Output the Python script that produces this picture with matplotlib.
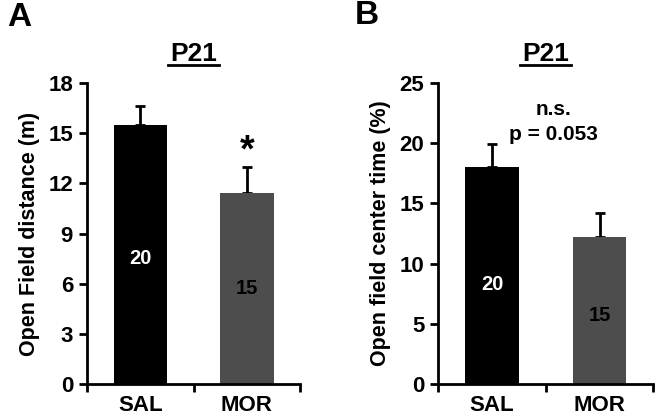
import matplotlib

matplotlib.use("Agg")
import matplotlib.pyplot as plt
from matplotlib.lines import Line2D

plt.rcParams["font.family"] = ["Liberation Sans", "DejaVu Sans"]
plt.rcParams["font.weight"] = "bold"

groups = ["SAL", "MOR"]
n_animals = ["20", "15"]
bar_colors = ["#000000", "#4d4d4d"]
n_colors = ["white", "black"]

dist_mean = [15.5, 11.4]
dist_err = [1.1, 1.55]
dist_n_y = [7.5, 5.7]

center_mean = [18.0, 12.2]
center_err = [1.95, 2.0]
center_n_y = [8.3, 5.7]

fig = plt.figure(figsize=(6.56, 4.18), dpi=100)
ax_a = fig.add_axes([0.1326, 0.0813, 0.325, 0.72])
ax_b = fig.add_axes([0.668, 0.0813, 0.328, 0.72])


def draw_panel(ax, means, errs, n_y, ymax, ystep, ylabel):
    xs = [0.5, 1.5]
    ax.bar(xs, means, width=0.5, color=bar_colors, zorder=2)
    ax.errorbar(xs, means, yerr=[[0, 0], errs], fmt="none", ecolor="black",
                elinewidth=2, capsize=3.5, capthick=2, zorder=1)
    for x, y, t, c in zip(xs, n_y, n_animals, n_colors):
        ax.text(x, y, t, ha="center", va="center", color=c, fontsize=14.5,
                fontweight="bold")
    ax.set_xlim(0, 2)
    ax.set_ylim(0, ymax)
    ax.set_yticks(range(0, ymax + 1, ystep))
    ax.set_xticks([0, 1, 2])
    ax.set_xticklabels([])
    ax.set_xticks(xs, minor=True)
    ax.set_xticklabels(groups, minor=True)
    ax.tick_params(axis="x", which="minor", length=0, pad=8, labelsize=16)
    ax.tick_params(axis="x", which="major", length=6, width=2, direction="out")
    ax.tick_params(axis="y", length=6, width=2, direction="out", labelsize=16,
                   pad=4)
    for side in ("top", "right"):
        ax.spines[side].set_visible(False)
    for side in ("left", "bottom"):
        ax.spines[side].set_linewidth(2)
    ax.set_ylabel(ylabel, fontsize=15.5, fontweight="bold", labelpad=6)
    title = ax.set_title("P21", fontsize=19, fontweight="bold", pad=16)
    return title


title_a = draw_panel(ax_a, dist_mean, dist_err, dist_n_y, 18, 3,
                     "Open Field distance (m)")
title_b = draw_panel(ax_b, center_mean, center_err, center_n_y, 25, 5,
                     "Open field center time (%)")

ax_a.text(1.5, 13.9, "*", ha="center", va="center", fontsize=27,
          fontweight="bold")
ax_b.text(1.07, 22.8, "n.s.", ha="center", va="center", fontsize=15,
          fontweight="bold")
ax_b.text(1.07, 20.7, "p = 0.053", ha="center", va="center", fontsize=15,
          fontweight="bold")

fig.text(19 / 656, 1 - 17 / 418, "A", ha="center", va="center", fontsize=24,
         fontweight="bold")
fig.text(367 / 656, 1 - 15 / 418, "B", ha="center", va="center", fontsize=24,
         fontweight="bold")

# underline the titles
fig.canvas.draw()
renderer = fig.canvas.get_renderer()
W, H = fig.bbox.width, fig.bbox.height
for t in (title_a, title_b):
    bb = t.get_window_extent(renderer)
    y = (bb.y0 + 1) / H
    fig.add_artist(Line2D([(bb.x0 - 2) / W, (bb.x1 + 2) / W], [y, y],
                          color="black", linewidth=2))

fig.savefig("out.png", dpi=100)
